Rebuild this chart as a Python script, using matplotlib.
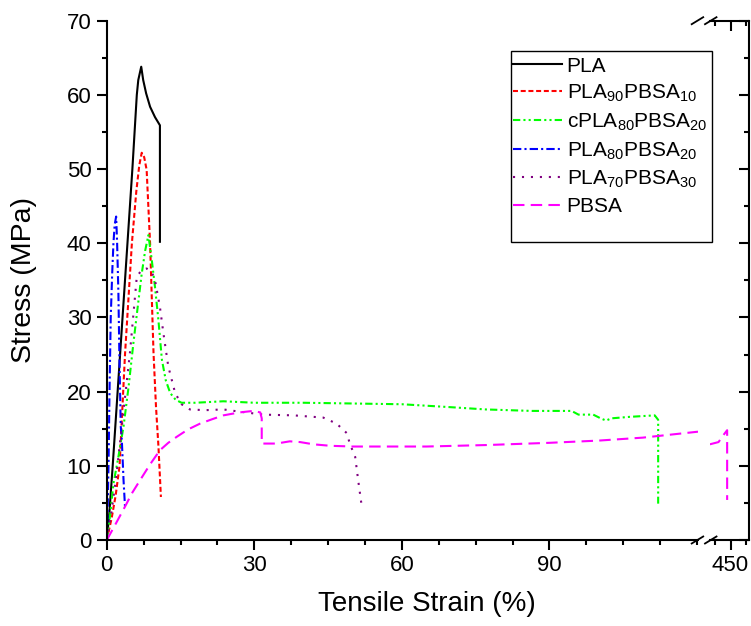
import matplotlib
matplotlib.use('Agg')
import matplotlib.pyplot as plt
from matplotlib.lines import Line2D
from matplotlib.patches import Rectangle
from matplotlib.ticker import MultipleLocator, FixedLocator

plt.rcParams['font.family'] = ['Liberation Sans', 'DejaVu Sans']
plt.rcParams['mathtext.fontset'] = 'custom'
plt.rcParams['mathtext.rm'] = 'Liberation Sans'

# ---- data (strain %, stress MPa) ----
pla_x = [0, 0.5, 1.2, 2.5, 4.2, 5.2, 6.1, 6.4, 7.0, 7.4, 8.0, 8.8, 9.8, 10.8, 10.8]
pla_y = [0, 3.5, 10, 23, 40, 50, 60, 62, 63.8, 62, 60.2, 58.4, 57.0, 55.9, 40.2]

p90_x = [0, 1.0, 1.8, 2.6, 3.7, 5.1, 6.0, 6.6, 7.1, 7.6, 8.1, 8.8, 9.5, 10.0, 10.5, 11.0]
p90_y = [0, 3, 6, 10, 25, 40, 47, 50.5, 52.2, 51.6, 49.9, 40, 25.2, 18, 12.6, 5.8]

cp80_x = [0, 0.7, 1.35, 2.3, 3.4, 4.4, 5.4, 6.3, 7.1, 7.8, 8.46, 9.15, 9.8, 10.5, 11.2,
          12.0, 12.9, 14.0, 15.2, 18, 23.7, 30, 40, 50, 60, 70, 77, 86.4, 94.5, 95.9,
          98.9, 100.4, 101.5, 102.6, 106.3, 111.4, 112.1, 112.1]
cp80_y = [0, 3.5, 7.6, 11, 15.3, 20.5, 26.5, 31.5, 35.9, 39, 41.1, 37.7, 34.1, 29.6, 24.3,
          21.5, 19.8, 18.9, 18.5, 18.5, 18.7, 18.5, 18.5, 18.4, 18.3, 17.9, 17.6, 17.4, 17.4, 16.9,
          16.9, 16.4, 16.1, 16.4, 16.6, 16.8, 16.2, 4.9]

p80_x = [0, 0.2, 0.35, 0.55, 0.8, 1.1, 1.35, 1.6, 1.9, 2.1, 2.36, 2.57, 2.84, 3.05, 3.4, 3.7]
p80_y = [0, 5, 10, 20, 30, 36, 40, 42.5, 43.6, 40, 33.2, 24.3, 15.3, 13.5, 8.1, 4.5]

p70_x = [0, 1.0, 2.0, 3.05, 4.7, 6.1, 7.1, 8.1, 9.1, 9.8, 10.8, 11.5, 12.5, 13.9, 15.2,
         16.9, 20, 23.7, 27, 31.8, 38, 44, 46.7, 48.8, 49.4, 50.5, 51.1, 51.8]
p70_y = [0, 4, 9, 15.3, 25.2, 35.5, 36.4, 36.6, 36.2, 35, 31.4, 27.9, 23.4, 19.8, 18.3,
         17.6, 17.5, 17.6, 17.3, 16.9, 16.8, 16.5, 15.7, 14.4, 13.0, 11.2, 8.1, 4.7]

pbsa_x = [0, 1.5, 3.7, 5.2, 6.8, 8.8, 10.8, 12.5, 14.2, 16.5, 19, 21.5, 23.7, 27, 29.8,
          31.2, 31.5, 31.5, 34.5, 37.2, 39.3, 42, 45.4, 50, 57.6, 65, 77.2, 90, 100, 109, 120.2]
pbsa_y = [0, 1.8, 4.5, 6.4, 8.1, 10.2, 12.1, 13.1, 13.9, 14.9, 15.7, 16.3, 16.8, 17.2, 17.4,
          17.2, 16.4, 13.0, 13.0, 13.3, 13.2, 12.9, 12.7, 12.6, 12.6, 12.6, 12.8, 13.1, 13.4, 13.8, 14.6]
# PBSA part after the axis break
pbsa_x2 = [443.3, 446.1, 447.8, 448.9, 448.9]
pbsa_y2 = [12.9, 13.2, 14.2, 14.8, 5.4]

x_major = [0, 30, 60, 90]
x2_major = [450]
x2_minor = [445, 455]

labels = ['PLA', 'PLA$_\\mathregular{90}$PBSA$_\\mathregular{10}$',
          'cPLA$_\\mathregular{80}$PBSA$_\\mathregular{20}$',
          'PLA$_\\mathregular{80}$PBSA$_\\mathregular{20}$',
          'PLA$_\\mathregular{70}$PBSA$_\\mathregular{30}$', 'PBSA']

W, H = 751, 626
LW = 1.5
TICK_FS = 16

def fx(px):
    return px / W

def fy(py):
    return 1 - py / H

fig = plt.figure(figsize=(W / 100, H / 100), dpi=100)
ax = fig.add_axes([fx(106.8), fy(540), fx(698) - fx(106.8), fy(20.7) - fy(540)])
ax2 = fig.add_axes([fx(709.6), fy(540), fx(749.3) - fx(709.6), fy(20.7) - fy(540)])

ax.plot(pla_x, pla_y, color='black', lw=LW, ls='-', label=labels[0])
ax.plot(p90_x, p90_y, color='#ff0000', lw=LW, ls=(0, (2.4, 1.3)), label=labels[1])
ax.plot(cp80_x, cp80_y, color='#00ff00', lw=LW, ls=(0, (3.5, 1.5, 1, 1.5, 1, 1.5)), label=labels[2])
ax.plot(p80_x, p80_y, color='#0000ff', lw=LW, ls=(0, (4, 1.5, 1, 1.5)), label=labels[3])
ax.plot(p70_x, p70_y, color='#800080', lw=LW, ls=(0, (1, 3.3)), label=labels[4])
ax.plot(pbsa_x, pbsa_y, color='#ff00ff', lw=LW, ls=(0, (5.5, 3)), label=labels[5])
ax2.plot(pbsa_x2, pbsa_y2, color='#ff00ff', lw=LW, ls=(0, (5.5, 3)))

# left part of the broken axis
ax.set_xlim(0, 120.2)
ax.set_ylim(0, 70)
ax.xaxis.set_major_locator(FixedLocator(x_major))
ax.xaxis.set_minor_locator(MultipleLocator(7.5))
ax.yaxis.set_major_locator(MultipleLocator(10))
ax.yaxis.set_minor_locator(MultipleLocator(5))
ax.spines['top'].set_visible(False)
ax.spines['right'].set_visible(False)
for s in ['left', 'bottom']:
    ax.spines[s].set_linewidth(1.5)
ax.tick_params(which='major', direction='out', length=7, width=1.5, labelsize=TICK_FS, pad=4)
ax.tick_params(which='minor', direction='out', length=3.3, width=1.5)

# right part after the break
ax2.set_xlim(443.2, 456.1)
ax2.set_ylim(0, 70)
ax2.xaxis.set_major_locator(FixedLocator(x2_major))
ax2.xaxis.set_minor_locator(FixedLocator(x2_minor))
ax2.yaxis.set_major_locator(MultipleLocator(10))
ax2.yaxis.set_minor_locator(MultipleLocator(5))
ax2.spines['left'].set_visible(False)
for s in ['right', 'top', 'bottom']:
    ax2.spines[s].set_linewidth(1.5)
ax2.tick_params(axis='y', which='both', left=False, labelleft=False, right=True, direction='in')
ax2.tick_params(axis='x', which='both', direction='out')
ax2.tick_params(which='major', length=7, width=1.5, labelsize=TICK_FS, pad=4)
ax2.tick_params(which='minor', length=3.3, width=1.5)

# top ticks of the right part point inward
ax3 = ax2.twiny()
ax3.set_xlim(ax2.get_xlim())
ax3.xaxis.set_major_locator(FixedLocator(x2_major))
ax3.xaxis.set_minor_locator(FixedLocator(x2_minor))
ax3.tick_params(axis='x', which='both', direction='in', top=True, labeltop=False, width=1.5)
ax3.tick_params(axis='x', which='major', length=7)
ax3.tick_params(axis='x', which='minor', length=3.3)
for s in ax3.spines.values():
    s.set_visible(False)

# break marks
for yb in (540, 20.7):
    for x0 in (691.7, 705):
        fig.add_artist(Line2D([fx(x0), fx(x0 + 11.5)], [fy(yb + 3.5), fy(yb - 3.5)],
                              transform=fig.transFigure, color='black', lw=1.3))

ax.yaxis.set_label_coords(-0.118, 0.5)
ax.set_ylabel('Stress (MPa)', fontsize=20.5)
fig.text(fx(427), fy(604), 'Tensile Strain (%)', fontsize=20, ha='center', va='center')

# legend: entries without frame, box drawn separately (extra room at the bottom)
handles, lbls = ax.get_legend_handles_labels()
leg = fig.legend(handles, lbls, loc='upper left', bbox_to_anchor=(fx(511.5), fy(55.5)),
                 bbox_transform=fig.transFigure, fontsize=15, frameon=False,
                 handlelength=2.35, handletextpad=0.25,
                 borderpad=0.05, labelspacing=0.34, borderaxespad=0)
fig.add_artist(Rectangle((fx(510.7), fy(241.7)), fx(712.3) - fx(510.7), fy(50.7) - fy(241.7),
                         transform=fig.transFigure, fill=False, edgecolor='black', lw=1.0))

fig.savefig('out.png', dpi=100)
